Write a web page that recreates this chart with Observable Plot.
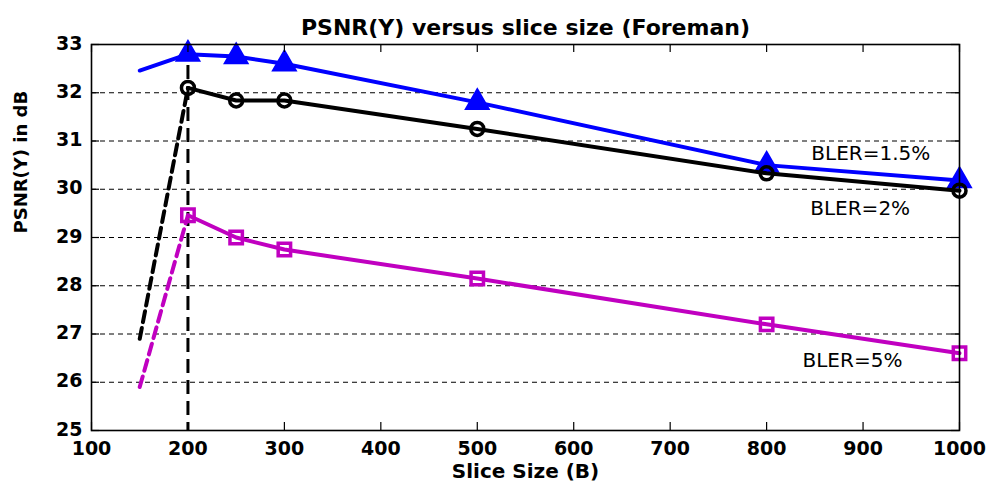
<!DOCTYPE html>
<html><head><meta charset="utf-8">
<script src="https://cdn.jsdelivr.net/npm/d3@7"></script>
<script src="https://cdn.jsdelivr.net/npm/@observablehq/plot@0.6"></script>
<style>body{margin:0;background:#fff}</style>
</head><body><div id="chart"></div>
<script>
const sizes = [150, 200, 250, 300, 500, 800, 1000];
const bler15 = [32.46, 32.8, 32.75, 32.6, 31.8, 30.5, 30.18];
const bler2 = [26.9, 32.1, 31.84, 31.84, 31.25, 30.33, 29.97];
const bler5 = [25.9, 29.46, 29.0, 28.75, 28.15, 27.2, 26.6];
const xTicks = [100, 200, 300, 400, 500, 600, 700, 800, 900, 1000];
const yTicks = [25, 26, 27, 28, 29, 30, 31, 32, 33];
const labels = ["BLER=1.5%", "BLER=2%", "BLER=5%"];
const labelX = [908, 897, 889];
const labelY = [30.74, 29.6, 26.45];
const title = "PSNR(Y) versus slice size (Foreman)";
const xLabel = "Slice Size (B)";
const yLabel = "PSNR(Y) in dB";
const markerX = 200;

const series = [
  {vals: bler15, color: "#0000ff", symbol: "triangle", dashFirst: false, fill: "#0000ff", r: 7.5},
  {vals: bler2, color: "#000000", symbol: "circle", dashFirst: true, fill: "none", r: 6.5},
  {vals: bler5, color: "#c000c0", symbol: "square", dashFirst: true, fill: "none", r: 7}
];

const W = 990, H = 492, mL = 91, mR = 31, mT = 44, mB = 62;
const innerH = H - mT - mB, innerW = W - mL - mR;
const FONT = "'DejaVu Sans', sans-serif";

const marks = [];
marks.push(Plot.ruleY(yTicks.slice(1, -1), {stroke: "#000", strokeWidth: 1, strokeDasharray: "5,4"}));
marks.push(Plot.ruleX([markerX], {stroke: "#000", strokeWidth: 3, strokeDasharray: "14,7"}));
for (const s of series) {
  const pts = sizes.map((x, i) => ({x, y: s.vals[i]}));
  marks.push(Plot.line(pts.slice(0, 2), {x: "x", y: "y", stroke: s.color, strokeWidth: 4,
    strokeDasharray: s.dashFirst ? "11,6" : null}));
  marks.push(Plot.line(pts.slice(1), {x: "x", y: "y", stroke: s.color, strokeWidth: 4}));
  marks.push(Plot.dot(pts.slice(1), {x: "x", y: "y", stroke: s.color, strokeWidth: 3.5, symbol: s.symbol, r: s.r, fill: s.fill}));
}
marks.push(Plot.text(labels, {x: (d, i) => labelX[i], y: (d, i) => labelY[i], text: d => d, fontSize: 20, fill: "#000", letterSpacing: 0.8}));
// ticks inward on all four sides
marks.push(Plot.tickX(xTicks, {x: d => d, insetTop: innerH - 8, stroke: "#000", strokeWidth: 1.2}));
marks.push(Plot.tickX(xTicks, {x: d => d, insetBottom: innerH - 8, stroke: "#000", strokeWidth: 1.2}));
marks.push(Plot.tickY(yTicks, {y: d => d, insetRight: innerW - 8, stroke: "#000", strokeWidth: 1.2}));
marks.push(Plot.tickY(yTicks, {y: d => d, insetLeft: innerW - 8, stroke: "#000", strokeWidth: 1.2}));
marks.push(Plot.frame({stroke: "#000", strokeWidth: 1.6}));
marks.push(Plot.axisX({ticks: xTicks, tickFormat: d => String(d), tickSize: 0, tickPadding: 11, label: null, fontSize: 19, fontWeight: "bold"}));
marks.push(Plot.axisY({ticks: yTicks, tickFormat: d => String(d), tickSize: 0, tickPadding: 9, dy: -1, label: null, fontSize: 19, fontWeight: "bold"}));
marks.push(Plot.text([title], {frameAnchor: "top", dy: -25, text: d => d, fontSize: 22, fontWeight: "bold"}));
marks.push(Plot.text([xLabel], {frameAnchor: "bottom", dy: 47, text: d => d, fontSize: 20, fontWeight: "bold"}));
marks.push(Plot.text([yLabel], {frameAnchor: "left", dx: -70, dy: -4, rotate: -90, text: d => d, fontSize: 18, fontWeight: "bold"}));

const chart = Plot.plot({
  width: W, height: H, marginLeft: mL, marginRight: mR, marginTop: mT, marginBottom: mB,
  style: {fontFamily: FONT, background: "#fff", color: "#000"},
  x: {type: "linear", domain: [100, 1000]},
  y: {type: "linear", domain: [25, 33]},
  marks
});
document.getElementById("chart").append(chart);
</script>
</body></html>
